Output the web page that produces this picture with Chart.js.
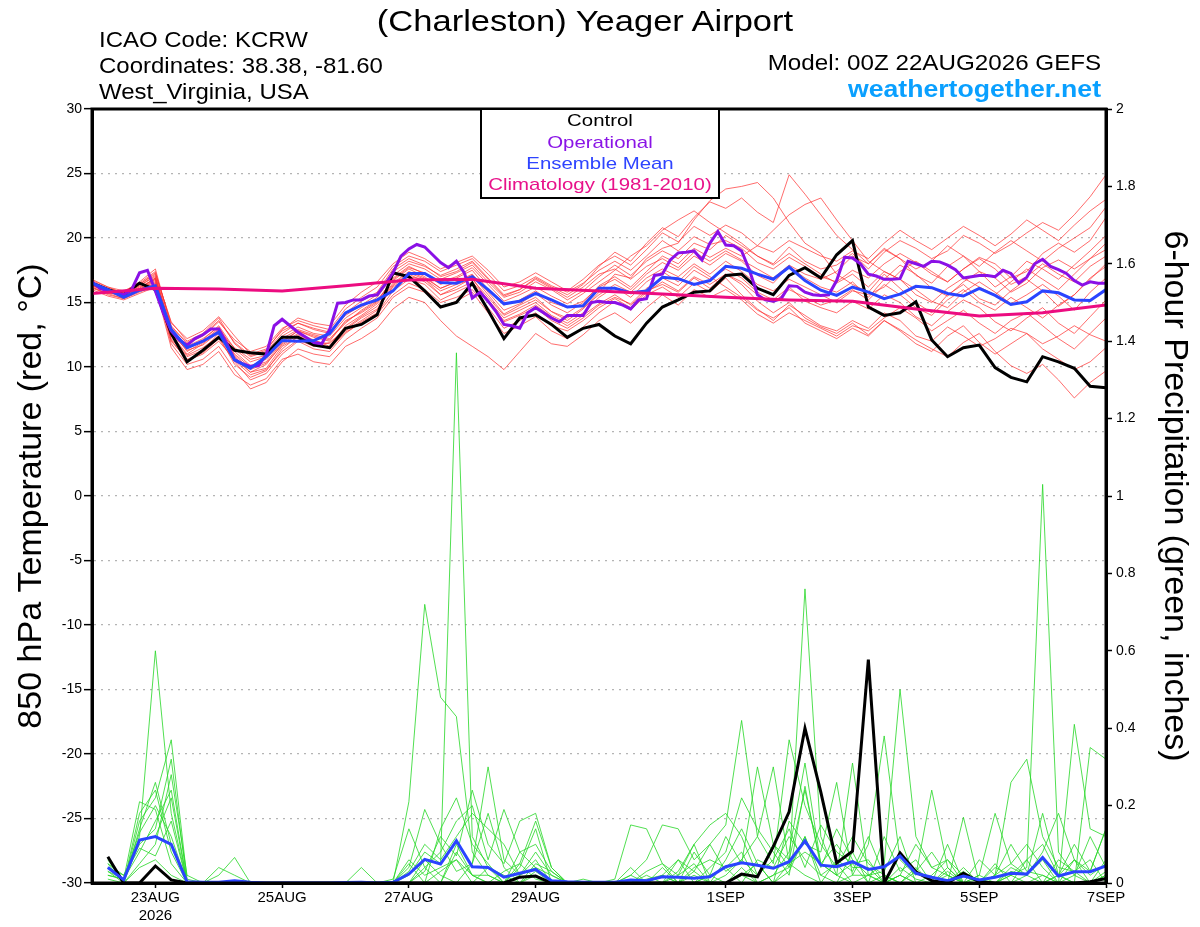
<!DOCTYPE html>
<html>
<head>
<meta charset="utf-8">
<script src="https://cdn.jsdelivr.net/npm/chart.js@4.4.1/dist/chart.umd.min.js"></script>
<style>
  html, body { margin: 0; padding: 0; background: #fff; }
  #wrap { position: relative; width: 1200px; height: 927px; overflow: hidden;
          font-family: "Liberation Sans", Arial, sans-serif; }
  #chart { position: absolute; left: 0; top: 0; }
  .txt { position: absolute; white-space: nowrap; line-height: 1; color: #000; }
  .ctr { left: 300px; width: 600px; text-align: center; transform-origin: center; }
  #legend { position: absolute; left: 480px; top: 108px; width: 240px; height: 91px;
            box-sizing: border-box; border: 2px solid #000; background: #fff; }
</style>
</head>
<body>
<div id="wrap">
  <canvas id="chart" width="1200" height="927"></canvas>

  <div class="txt ctr" style="top:7px;left:285px;font-size:29px;transform:scaleX(1.19);">(Charleston) Yeager Airport</div>

  <div class="txt" style="left:99px;top:29px;font-size:22px;transform:scaleX(1.09);transform-origin:left;">ICAO Code: KCRW</div>
  <div class="txt" style="left:99px;top:55px;font-size:22px;transform:scaleX(1.09);transform-origin:left;">Coordinates: 38.38, -81.60</div>
  <div class="txt" style="left:99px;top:81px;font-size:22px;transform:scaleX(1.09);transform-origin:left;">West_Virginia, USA</div>

  <div class="txt" style="right:99px;top:52px;font-size:22px;transform:scaleX(1.1);transform-origin:right;">Model: 00Z 22AUG2026 GEFS</div>
  <div class="txt" style="right:99px;top:77px;font-size:24px;font-weight:bold;color:#0aa0ff;transform:scaleX(1.11);transform-origin:right;">weathertogether.net</div>

  <div id="legend"></div>
  <div class="txt ctr" style="top:112px;font-size:17px;transform:scaleX(1.2);">Control</div>
  <div class="txt ctr" style="top:134px;font-size:17px;color:#8a14e6;transform:scaleX(1.2);">Operational</div>
  <div class="txt ctr" style="top:155px;font-size:17px;color:#2e44ff;transform:scaleX(1.2);">Ensemble Mean</div>
  <div class="txt ctr" style="top:176px;font-size:17px;color:#e8128a;transform:scaleX(1.2);">Climatology (1981-2010)</div>
</div>

<script>
// ---------------------------------------------
// DATA
// temperature series: 6-hourly from 22AUG 00Z (65 values)
// precipitation series: 6-hourly from 22AUG 06Z (64 values)
// operational run: 3-hourly (129 values)
// climatology: daily at 00Z (17 values)
// ---------------------------------------------
const tickHours = [24, 72, 120, 168, 240, 288, 336, 384];
const tickLabels = [['23AUG', '2026'], '25AUG', '27AUG', '29AUG', '1SEP', '3SEP', '5SEP', '7SEP'];

const controlTemp = [16.5, 16.0, 15.6, 16.5, 16.0, 12.6, 10.4, 11.3, 12.3, 11.3, 11.1, 11.0, 12.3,
  12.3, 11.7, 11.5, 13.0, 13.3, 14.05, 17.3, 17.0, 15.9, 14.65, 15.0, 16.5, 14.4, 12.2, 13.8, 14.05,
  13.3, 12.3, 13.0, 13.3, 12.4, 11.8, 13.4, 14.65, 15.2, 15.8, 15.9, 17.1, 17.2, 16.1, 15.6, 17.1,
  17.7, 16.9, 18.7, 19.8, 14.65, 14.0, 14.2, 15.05, 12.1, 10.8, 11.5, 11.7, 9.95, 9.2, 8.85, 10.8,
  10.4, 9.9, 8.5, 8.4];

const meanTemp = [16.5, 16.0, 15.4, 15.95, 16.3, 12.9, 11.5, 12.0, 12.7, 10.55, 9.9, 10.8, 12.05,
  12.0, 12.05, 12.6, 14.2, 14.8, 15.2, 15.9, 17.25, 17.25, 16.55, 16.5, 17.0, 16.0, 14.9, 15.1, 15.7,
  15.2, 14.65, 14.75, 16.1, 16.1, 15.75, 15.9, 16.95, 16.85, 16.4, 16.7, 17.8, 17.65, 17.2, 16.8,
  17.75, 16.7, 15.95, 15.55, 16.2, 15.8, 15.3, 15.65, 16.25, 16.15, 15.7, 15.5, 16.1, 15.55, 14.85,
  15.05, 15.9, 15.75, 15.2, 15.15, 16.0];

const operTemp = [16.6, 16.1, 15.9, 15.8, 15.6, 16.0, 17.3, 17.5, 15.9, 14.2, 12.8, 12.1, 11.7,
  12.2, 12.5, 12.95, 12.95, 11.85, 10.55, 10.25, 10.05, 10.1, 10.95, 13.2, 13.7, 13.2, 12.7, 12.3,
  11.9, 11.8, 12.9, 14.95, 15.0, 15.2, 15.2, 15.5, 15.6, 16.4, 17.3, 18.6, 19.15, 19.5, 19.3, 18.7,
  18.1, 17.7, 18.2, 17.3, 15.35, 15.8, 15.1, 14.3, 13.3, 13.2, 13.0, 14.2, 14.6, 14.2, 13.8, 13.5,
  14.0, 14.0, 14.0, 15.0, 15.1,
  15.0, 15.0, 14.8, 14.5, 15.2, 15.3, 17.1, 17.2, 18.3, 18.85, 18.9, 19.0, 18.3, 19.6, 20.5, 19.45,
  19.4, 19.0, 17.5, 15.6, 15.2, 15.1, 15.3, 16.3, 16.25, 15.8, 15.6, 15.55, 15.6, 16.7, 18.5, 18.45,
  18.0, 17.2, 17.05, 16.8, 16.8, 16.85, 18.2, 18.0, 17.8, 18.2, 18.15, 17.9, 17.55, 16.9, 17.0, 17.1,
  17.1, 17.0, 17.5, 17.25, 16.5, 16.95, 18.0, 18.35, 17.8, 17.55, 17.25, 16.7, 16.35, 16.6, 16.5, 16.5];

const climTemp = [15.7, 16.1, 16.05, 15.9, 16.3, 16.75, 16.8, 16.1, 15.9, 15.65, 15.4, 15.2, 15.1,
  14.5, 13.95, 14.2, 14.8];

const controlPrecip = [0.068, 0, 0, 0.044, 0.008, 0, 0, 0, 0, 0, 0, 0, 0, 0, 0, 0,
  0, 0, 0, 0, 0, 0, 0, 0, 0, 0, 0.015, 0.018, 0, 0, 0, 0,
  0, 0, 0, 0, 0, 0, 0, 0, 0.023, 0.016, 0.094, 0.184, 0.40, 0.235, 0.052, 0.082,
  0.577, 0, 0.078, 0.029, 0.006, 0, 0.025, 0.003, 0, 0, 0, 0, 0, 0, 0.003, 0.012];

const meanPrecip = [0.04, 0.008, 0.111, 0.12, 0.10, 0.003, 0.002, 0.002, 0.006, 0.002, 0, 0, 0, 0, 0, 0.001,
  0.002, 0, 0.002, 0.023, 0.061, 0.049, 0.109, 0.042, 0.040, 0.015, 0.025, 0.035, 0.006, 0.003, 0.002, 0.002,
  0.002, 0.008, 0.006, 0.016, 0.015, 0.012, 0.016, 0.042, 0.052, 0.046, 0.038, 0.055, 0.109, 0.046, 0.042, 0.055,
  0.035, 0.042, 0.07, 0.025, 0.015, 0.006, 0.018, 0.008, 0.015, 0.025, 0.023, 0.066, 0.018, 0.029, 0.029, 0.044];

// ensemble members, 850 hPa temperature
const memberTemps = [
  [16.3,15.8,15.5,16.1,16.9, 13.0,11.6,12.2,13.1,11.2,10.1,10.6,12.0, 12.8,12.3,12.0,13.6,14.2,15.0,16.9,
   17.8,17.2,16.4,16.9,17.5,16.0,14.8,15.2,15.9,15.0,14.6,15.1,16.2,
   16.8,16.0,17.2,18.1,17.5,18.6,17.9,18.8,18.2,17.1,16.5,17.8,16.9,16.2,15.8,16.6,
   15.4,16.8,17.9,17.2,16.1,15.5,16.6,17.4,16.9,15.8,16.5,17.7,18.3,17.6,18.4,19.1],
  [16.6,16.1,15.4,15.9,16.5, 12.2,10.8,11.3,12.6,10.5,9.4,9.8,11.2, 12.1,11.6,11.9,12.9,13.8,14.5,16.2,
   17.0,16.8,15.6,16.2,16.9,15.1,13.6,14.1,14.8,13.9,13.2,14.0,14.9,
   15.6,14.8,15.9,16.4,15.8,16.9,16.1,17.2,16.4,15.1,14.2,15.0,13.8,13.1,12.6,13.4,
   12.5,13.6,12.9,12.1,11.4,10.8,11.9,12.6,11.2,10.1,9.5,10.2,9.0,7.6,8.8,9.7],
  [16.2,15.7,15.8,16.4,17.2, 13.5,12.0,12.6,13.8,11.8,10.8,11.2,12.6, 13.4,12.9,12.6,14.2,15.1,15.8,17.6,
   18.4,17.9,17.0,17.4,18.1,16.8,15.5,16.0,16.9,16.2,15.6,16.4,17.8,
   18.9,18.2,19.6,20.8,20.1,21.6,22.8,22.3,23.1,22.0,21.2,24.9,23.4,21.8,20.2,19.1,
   18.0,19.2,18.4,17.1,16.5,17.8,18.6,17.4,16.2,17.0,18.2,17.6,16.8,17.9,19.0,20.2],
  [16.5,16.0,15.6,16.3,17.0, 12.8,11.2,11.9,12.9,10.8,9.6,10.2,11.8, 12.6,12.1,11.6,13.2,14.0,14.9,16.5,
   17.4,16.9,16.1,16.6,17.1,15.6,14.1,14.8,15.4,14.3,13.6,14.5,15.8,
   17.2,16.9,18.4,19.2,19.6,21.4,22.9,23.8,24.0,24.3,23.1,21.2,19.6,18.8,17.2,16.4,
   15.8,17.2,16.1,15.0,14.2,15.6,16.4,15.3,14.8,15.9,16.8,15.9,14.7,15.6,16.9,17.8],
  [16.4,15.9,15.7,16.0,16.6, 12.5,11.0,11.8,12.8,11.5,10.6,10.9,12.4, 13.1,12.6,12.4,13.8,14.6,15.4,17.1,
   18.0,17.6,16.8,17.3,17.9,16.6,15.4,15.8,16.6,16.0,15.2,15.9,17.0,
   17.9,17.1,18.2,19.0,18.4,19.6,19.1,20.2,19.4,18.6,18.0,19.3,18.2,17.6,17.9,18.8,
   17.6,18.9,19.8,19.2,18.4,19.0,20.2,19.6,18.8,19.5,20.4,21.2,20.6,21.8,23.2,24.9],
  [16.2,15.6,15.3,15.8,16.3, 11.8,10.2,10.6,11.6,9.8,8.3,8.8,10.4, 11.4,11.0,10.8,12.1,13.0,13.8,15.4,
   16.2,15.8,14.6,15.1,15.8,14.2,12.6,13.2,13.9,12.8,12.2,13.1,14.2,
   15.1,14.4,15.6,16.2,15.4,16.5,15.8,16.9,15.6,14.5,13.6,14.8,14.0,13.2,12.8,13.6,
   13.0,14.2,13.6,12.4,12.0,13.1,12.4,11.6,12.2,13.0,12.6,11.8,12.4,13.2,12.5,12.0],
  [16.7,16.2,15.9,16.5,17.4, 13.2,11.8,12.4,13.5,12.1,11.2,11.6,13.0, 13.6,13.2,12.9,14.5,15.4,16.2,17.8,
   18.6,18.2,17.4,17.9,18.4,17.2,15.9,16.3,17.0,16.3,15.8,16.5,17.5,
   18.2,17.5,18.6,19.8,19.0,20.1,19.5,19.8,19.2,18.1,17.6,18.5,17.8,17.0,16.6,17.5,
   16.9,18.0,18.8,18.1,17.2,16.6,17.6,18.5,18.0,16.9,17.4,18.8,19.6,18.9,19.8,21.6],
  [16.4,15.8,15.4,16.0,16.7, 12.0,10.6,11.1,12.2,10.4,9.0,9.5,11.0, 12.0,11.4,11.2,12.6,13.5,14.2,15.9,
   16.8,16.4,15.2,15.8,16.4,15.0,13.5,14.0,14.6,13.6,13.0,13.8,14.8,
   15.4,14.9,16.1,16.9,16.3,17.5,16.8,17.6,16.9,15.8,15.2,16.2,15.1,14.6,14.2,15.1,
   14.5,15.6,15.0,13.9,13.2,14.3,15.2,14.6,13.5,12.8,13.8,14.6,13.4,12.6,13.9,15.2],
  [16.3,15.9,15.6,16.2,16.8, 12.7,11.4,12.0,13.0,11.0,10.0,10.4,11.9, 12.8,12.4,12.1,13.4,14.4,15.2,16.7,
   17.6,17.0,16.1,16.6,17.2,15.8,14.4,14.9,15.7,14.8,14.2,15.0,16.3,
   17.0,16.2,17.4,18.6,18.0,19.2,18.5,19.2,18.6,19.4,20.6,21.8,22.6,23.1,21.4,19.8,
   18.2,17.4,16.8,16.0,15.1,14.6,15.8,16.6,15.8,14.9,15.6,16.4,15.5,14.4,15.8,16.9],
  [16.5,16.0,15.5,16.1,16.9, 12.4,10.9,11.5,12.4,10.2,9.2,9.7,11.4, 12.4,11.9,11.5,12.8,13.6,14.4,16.3,
   17.2,16.6,15.6,16.0,16.6,15.2,13.8,14.4,15.0,14.0,13.4,14.2,15.4,
   16.2,15.4,16.6,17.4,16.6,17.8,17.0,16.2,15.4,14.4,13.8,14.6,13.4,12.8,12.2,13.0,
   12.4,13.6,12.8,11.8,11.2,12.4,13.2,11.9,11.0,11.8,12.6,11.4,10.6,9.8,10.4,11.5],
  [16.6,16.1,15.8,16.4,17.3, 13.4,12.2,12.8,13.9,12.4,11.0,11.4,12.8, 13.4,13.0,12.7,14.0,14.8,15.6,17.4,
   18.2,17.8,17.1,17.6,18.2,16.9,15.6,16.0,16.8,16.1,15.4,16.2,17.2,
   17.6,16.8,17.8,18.4,17.7,18.9,18.2,19.0,18.3,17.6,16.9,17.9,17.2,16.8,17.4,18.6,
   18.0,19.1,18.4,17.6,18.2,19.4,18.6,17.8,18.9,19.8,19.0,18.2,19.2,20.0,20.8,22.4],
  [16.1,15.7,15.3,15.9,16.4, 12.1,10.5,11.0,12.0,10.6,9.6,9.9,11.6, 12.3,11.8,11.4,12.7,13.4,14.1,15.6,
   16.5,16.0,15.0,15.4,16.0,14.6,13.0,13.6,14.2,13.2,12.8,13.6,14.6,
   15.3,14.6,15.8,16.6,15.9,17.0,16.4,17.2,16.6,15.6,15.0,16.0,15.4,14.8,15.2,16.0,
   15.2,16.4,15.6,14.6,14.0,15.2,16.0,15.0,14.4,15.4,14.6,13.8,14.8,15.6,16.8,18.0],
  [16.8,16.2,15.7,16.3,17.1, 12.9,11.5,12.1,13.2,11.4,10.4,10.8,12.2, 12.9,12.5,12.2,13.5,14.3,15.1,16.8,
   17.7,17.3,16.6,17.0,17.7,16.4,15.1,15.6,16.2,15.5,14.9,15.7,16.6,
   17.5,18.6,19.4,20.6,21.4,22.1,21.2,20.4,19.6,18.6,17.9,18.8,18.0,17.2,16.5,17.2,
   16.2,17.4,16.8,15.6,15.0,16.1,16.9,16.2,15.6,16.6,17.6,16.8,16.0,17.2,18.4,19.6],
  [16.4,15.9,15.5,16.0,16.8, 12.6,11.3,11.7,12.7,10.9,9.8,10.3,11.7, 12.5,12.0,11.8,13.0,13.9,14.7,16.4,
   17.3,16.8,15.9,16.4,16.8,15.4,14.0,14.6,15.2,14.3,13.8,14.6,15.6,
   16.4,15.8,16.9,17.6,17.0,18.0,17.2,18.2,17.4,16.4,15.9,16.8,16.2,15.6,15.0,15.9,
   15.6,16.2,17.4,18.2,17.4,16.6,17.6,18.4,17.6,16.4,17.0,18.0,17.2,16.6,17.8,18.6],
  [16.0,15.5,15.2,15.7,16.2, 11.5,9.8,10.2,11.2,9.4,8.6,9.1,10.6, 11.0,10.4,10.2,11.6,12.2,13.0,14.5,
   15.4,15.0,13.6,12.4,11.6,10.8,9.8,11.2,12.6,11.8,11.6,12.5,13.6,
   14.2,13.4,14.6,15.6,14.8,16.0,15.4,16.0,15.2,14.1,13.4,14.2,13.6,13.0,12.4,13.2,
   12.8,13.8,14.6,13.8,12.8,13.6,14.4,13.4,12.6,13.6,14.2,13.2,12.2,11.4,12.6,13.8],
  [16.5,16.0,15.8,16.6,17.6, 13.1,11.9,12.5,13.6,11.9,10.9,11.3,12.9, 13.8,13.4,13.2,14.8,15.8,16.6,18.0,
   18.9,18.4,17.6,18.1,18.6,17.5,16.2,16.6,17.3,16.6,15.9,16.8,17.9,
   18.6,17.9,19.1,20.4,19.7,20.9,20.2,21.0,20.4,19.4,18.9,19.8,19.2,18.6,18.2,19.0,
   18.4,19.6,20.6,19.8,19.1,20.0,20.9,20.2,19.4,20.3,21.4,20.6,19.8,21.0,22.1,23.0]
];

// ensemble members, 6-hour precipitation
const memberPrecips = [
  [0.03,0.01,0.12,0.60,0.18,0,0,0, 0,0,0,0,0,0,0,0, 0,0,0,0.02,0.08,0.05,1.37,0.12,
   0.04,0.02,0,0.03,0,0,0,0, 0,0,0.01,0.02,0,0.03,0,0.02, 0.06,0.02,0.1,0.04,0.12,0.02,0.05,0,
   0.02,0,0.04,0.01,0,0.03,0,0, 0.02,0.05,0.1,0.04,0,0.06,0.02,0.05],
  [0.05,0,0.16,0.22,0.37,0.01,0,0, 0,0,0,0,0,0,0,0, 0,0,0,0.21,0.72,0.48,0.43,0.08,
   0.02,0,0.05,0.01,0,0,0,0, 0,0,0,0,0.02,0.05,0,0, 0.04,0,0.02,0.08,0.31,0.05,0.02,0,
   0,0,0.02,0,0,0.04,0,0.02, 0,0.02,0.04,1.03,0.08,0.02,0,0.03],
  [0.02,0.01,0.21,0.19,0.05,0,0,0.02, 0.066,0,0,0,0,0,0,0, 0,0,0,0.04,0.19,0.1,0.03,0.05,
   0.3,0.06,0.02,0.04,0.02,0,0.01,0, 0,0.02,0.06,0.15,0.14,0.06,0.1,0.15, 0.42,0.12,0.05,0.37,0.2,0.1,0.04,0.12,
   0.05,0.02,0,0.03,0.08,0.02,0,0, 0.04,0.02,0.06,0,0.02,0.1,0.03,0.14],
  [0,0,0.14,0.26,0.1,0,0,0, 0,0,0,0,0,0,0,0, 0,0,0.01,0.14,0.04,0.08,0.16,0.2,
   0.06,0.19,0.08,0.1,0.03,0,0,0, 0,0,0,0.04,0,0.08,0.02,0.12, 0.05,0.3,0.1,0.06,0.24,0.05,0.02,0.31,
   0.02,0.05,0.5,0.12,0.04,0.02,0,0.01, 0,0.03,0.02,0.06,0,0.02,0.12,0.04],
  [0.04,0.02,0.1,0.14,0.32,0,0,0, 0,0,0,0,0,0,0,0, 0,0,0,0,0.03,0.12,0.07,0.24,
   0.1,0.05,0.16,0.18,0.04,0,0,0, 0,0.02,0,0,0.03,0.1,0,0.06, 0.14,0.05,0,0.16,0.1,0.08,0.26,0.02,
   0.1,0.38,0.06,0.02,0.24,0.04,0,0.02, 0.18,0.05,0.02,0.08,0.18,0.06,0,0.02],
  [0.06,0,0.18,0.24,0.08,0,0,0, 0,0,0,0,0,0,0,0, 0.04,0,0,0.05,0,0.14,0.22,0.1,
   0.05,0,0.04,0.14,0,0,0,0, 0.01,0.15,0.14,0.05,0.02,0.1,0.15,0.18, 0.12,0.02,0.06,0.14,0.04,0.15,0.08,0.05,
   0,0.12,0.03,0.06,0,0,0.17,0, 0.02,0.26,0.32,0.12,0.04,0.03,0.06,0],
  [0.01,0,0.05,0.1,0.28,0.02,0,0, 0,0,0,0,0,0,0,0, 0,0,0,0.03,0.1,0.06,0.12,0.18,
   0.14,0.1,0.02,0.08,0.02,0,0,0, 0,0,0,0,0.06,0,0.04,0.08, 0.22,0.14,0.08,0.02,0.25,0.04,0.14,0.06,
   0.02,0.03,0.12,0,0.02,0.06,0,0.06, 0.02,0.1,0.03,0.02,0,0.41,0.14,0.12],
  [0.03,0,0.11,0.12,0.22,0,0,0.04, 0.02,0,0,0,0,0,0,0, 0,0,0,0,0.06,0.02,0,0.05,
   0.18,0.04,0,0.05,0.03,0,0,0, 0,0,0.03,0.05,0,0.04,0.06,0.04, 0.08,0,0.02,0.04,0.76,0.12,0.02,0.05,
   0.06,0,0.02,0,0,0.02,0,0, 0.05,0,0.06,0.1,0.02,0,0.35,0.32],
  [0.02,0.01,0.08,0.16,0.24,0,0,0, 0,0,0,0,0,0,0,0, 0,0,0,0.06,0.02,0.04,0.06,0.02,
   0,0.03,0.05,0.16,0.04,0,0,0, 0,0,0,0.02,0.06,0.03,0.1,0.03, 0.06,0.12,0.3,0.05,0.08,0.05,0.1,0.04,
   0.04,0,0.02,0.1,0.04,0.06,0.02,0, 0,0.04,0.02,0.18,0.02,0.06,0.03,0.14],
  [0.05,0.02,0.09,0.07,0.16,0,0,0, 0,0,0,0,0,0,0,0, 0,0,0,0,0,0.03,0.06,0,
   0.04,0,0.08,0.04,0,0,0,0, 0,0.04,0,0.02,0,0,0.02,0.04, 0,0.06,0.04,0.12,0.06,0.02,0,0.08,
   0,0.02,0,0.04,0,0,0.03,0, 0,0,0.02,0,0.06,0.03,0,0.02],
  [0,0,0.04,0.06,0.02,0,0,0, 0,0,0,0,0,0,0,0, 0,0,0,0,0.04,0,0.08,0.02,
   0.02,0,0,0.02,0,0,0,0, 0,0,0,0,0,0,0.02,0, 0.02,0,0,0.05,0.02,0,0.06,0.03,
   0.12,0.02,0,0,0,0,0.04,0, 0,0,0,0.02,0,0,0,0],
  [0.04,0.01,0.13,0.2,0.12,0,0,0, 0,0,0,0,0,0,0,0, 0,0,0,0,0,0,0.1,0.02,
   0,0,0.02,0.06,0,0,0,0, 0,0,0.02,0,0,0.02,0,0, 0.02,0.05,0,0.03,0.12,0,0,0.02,
   0.02,0,0,0,0,0.1,0,0, 0,0.02,0,0,0.02,0,0,0.06]
];

// ---------------------------------------------
// helpers: put series on the hour axis
// ---------------------------------------------
const FONT = '"Liberation Sans", Arial, sans-serif';
const onHours = (vals, step, start) => vals.map((v, i) => ({ x: start + i * step, y: v }));

const mainLine = (label, data, color, axis, order) => ({
  label, data, yAxisID: axis, order,
  borderColor: color, borderWidth: 3, pointRadius: 0, tension: 0, fill: false
});

const datasets = [
  mainLine('Climatology', onHours(climTemp, 24, 0), '#ec0c80', 'y', 0),
  mainLine('Ensemble Mean', onHours(meanTemp, 6, 0), '#2a44ff', 'y', 1),
  mainLine('Ensemble Mean precip', onHours(meanPrecip, 6, 6), '#2a44ff', 'y2', 1),
  mainLine('Operational', onHours(operTemp, 3, 0), '#8a10e6', 'y', 2),
  mainLine('Control', onHours(controlTemp, 6, 0), '#000000', 'y', 3),
  mainLine('Control precip', onHours(controlPrecip, 6, 6), '#000000', 'y2', 3)
];

memberTemps.forEach((m, k) => datasets.push({
  label: 'member T ' + (k + 1), data: onHours(m, 6, 0), yAxisID: 'y', order: 10,
  borderColor: 'rgba(255,50,50,0.8)', borderWidth: 0.9, pointRadius: 0, tension: 0
}));
memberPrecips.forEach((m, k) => datasets.push({
  label: 'member P ' + (k + 1), data: onHours(m, 6, 6), yAxisID: 'y2', order: 10,
  borderColor: 'rgba(40,215,40,0.9)', borderWidth: 0.9, pointRadius: 0, tension: 0
}));

// thick frame round the plot area
const framePlugin = {
  id: 'frame',
  afterDraw(chart) {
    const { ctx, chartArea: a } = chart;
    ctx.save();
    ctx.strokeStyle = '#000';
    ctx.lineWidth = 3;
    ctx.strokeRect(a.left, a.top, a.right - a.left, a.bottom - a.top);
    ctx.restore();
  }
};

new Chart(document.getElementById('chart'), {
  type: 'line',
  data: { datasets },
  plugins: [framePlugin],
  options: {
    responsive: false,
    animation: false,
    devicePixelRatio: 1,
    layout: { padding: { top: 109, left: 0, right: 0, bottom: 0 } },
    plugins: { legend: { display: false }, tooltip: { enabled: false } },
    scales: {
      x: {
        type: 'linear', min: 0, max: 384,
        afterBuildTicks: s => { s.ticks = tickHours.map(v => ({ value: v })); },
        afterFit: s => { s.height = 44; },
        ticks: {
          callback: (v, i) => tickLabels[i],
          autoSkip: false, maxRotation: 0, padding: 1,
          color: '#000', font: { family: FONT, size: 15 }
        },
        grid: { drawOnChartArea: false, tickLength: 5, tickColor: '#000', tickWidth: 1.5 },
        border: { color: '#000', width: 3 }
      },
      y: {
        type: 'linear', position: 'left', min: -30, max: 30,
        afterFit: s => { s.width = 92; },
        ticks: { stepSize: 5, padding: 2, color: '#000', font: { family: FONT, size: 14 } },
        grid: { color: '#b4b4b4', lineWidth: 1.3, tickColor: '#000', tickLength: 8,
                tickWidth: 1.5, tickBorderDash: [20, 0] },
        border: { color: '#000', width: 3, dash: [2, 5] },
        title: { display: true, text: '850 hPa Temperature (red, °C)', color: '#000',
                 font: { family: FONT, size: 34 }, padding: { top: 11, bottom: 0 } }
      },
      y2: {
        type: 'linear', position: 'right', min: 0, max: 2,
        afterFit: s => { s.width = 94; },
        ticks: { stepSize: 0.2, padding: 4, color: '#000', font: { family: FONT, size: 14 },
                 callback: v => +v.toFixed(1) },
        grid: { drawOnChartArea: false, tickColor: '#000', tickLength: 6, tickWidth: 1.5 },
        border: { color: '#000', width: 3 },
        title: { display: true, text: '6-hour Precipitation (green, inches)', color: '#000',
                 font: { family: FONT, size: 34 }, padding: { top: 5, bottom: 0 } }
      }
    }
  }
});
</script>
</body>
</html>
